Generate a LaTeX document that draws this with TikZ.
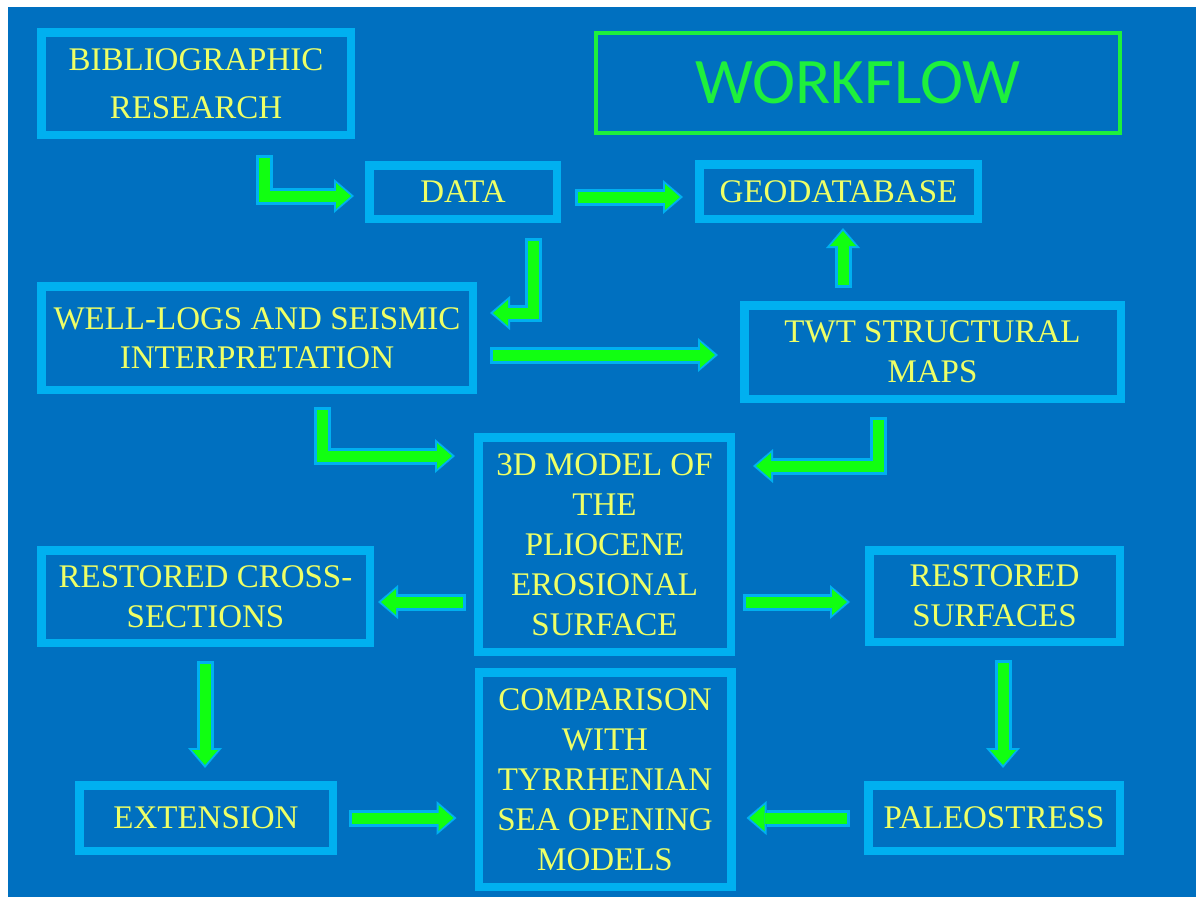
\documentclass[tikz,border=0pt]{standalone}
\usepackage{fontspec}
\setmainfont{Liberation Serif}
\newfontfamily\wffont{Carlito}
\usetikzlibrary{arrows.meta}
\definecolor{bgblue}{HTML}{0070C0}
\definecolor{lblue}{HTML}{00B0F0}
\definecolor{txtyel}{HTML}{EEFF66}
\definecolor{agreen}{HTML}{11FF11}
\definecolor{wgreen}{HTML}{1EF03C}
\tikzset{
  box/.style={draw=lblue, line width=8.5pt, fill=bgblue, text=txtyel, align=center, inner sep=0pt, font=\fontsize{33}{40}\selectfont},
  fatglow/.style={draw=lblue, line width=17pt, line join=miter, -{Triangle[length=20pt,width=34pt,line width=0pt]}},
  fatcore/.style={draw=agreen, line width=11pt, line join=miter, -{Triangle[length=15pt,width=26pt,line width=0pt]}, shorten >=3pt, shorten <=3pt},
}
\newcommand{\fatarr}[1]{\draw[fatglow] #1; \draw[fatcore] #1;}
\begin{document}
\begin{tikzpicture}[x=1pt,y=-1pt]
\useasboundingbox (0,0) rectangle (1196,897);
\fill[white] (0,0) rectangle (1196,897);
\fill[bgblue] (8,7) rectangle (1196,897);

\node[box, minimum width=309.5pt, minimum height=102.5pt, font=\fontsize{33}{48}\selectfont] (biblio) at (196,83.5) {BIBLIOGRAPHIC\\RESEARCH};
\node[box, minimum width=187.5pt, minimum height=53.5pt] (data) at (463,192) {DATA};
\node[box, minimum width=278.5pt, minimum height=54.5pt] (geo) at (838.5,191.5) {GEODATABASE};
\node[draw=wgreen, line width=4pt, minimum width=524pt, minimum height=100pt, text=wgreen, inner sep=0pt, font=\wffont\fontsize{65}{65}\selectfont] (wf) at (858,83) {WORKFLOW};
\node[box, minimum width=431.5pt, minimum height=103.5pt, font=\fontsize{33}{39}\selectfont] (well) at (257,338) {WELL-LOGS AND SEISMIC\\INTERPRETATION};
\node[box, minimum width=376.5pt, minimum height=93.5pt] (twt) at (932.5,352) {TWT STRUCTURAL\\MAPS};
\node[box, minimum width=252.5pt, minimum height=214.5pt] (model) at (604.5,544.5) {3D MODEL OF\\THE\\PLIOCENE\\EROSIONAL\\SURFACE};
\node[box, minimum width=328.5pt, minimum height=92.5pt] (cross) at (205.5,596.5) {RESTORED CROSS-\\SECTIONS};
\node[box, minimum width=250.5pt, minimum height=91.5pt] (surf) at (994.5,596) {RESTORED\\SURFACES};
\node[box, minimum width=253.5pt, minimum height=65.5pt] (ext) at (206,818) {EXTENSION};
\node[box, minimum width=252.5pt, minimum height=214.5pt] (comp) at (605,779.5) {COMPARISON\\WITH\\TYRRHENIAN\\SEA OPENING\\MODELS};
\node[box, minimum width=251.5pt, minimum height=65.5pt] (paleo) at (994,818) {PALEOSTRESS};

\fatarr{([xshift=68pt,yshift=-16pt]biblio.south) |- ([xshift=-11pt,yshift=-4pt]data.west)}
\fatarr{([xshift=14pt,yshift=-5pt]data.east) -- ([xshift=-12pt,yshift=-5.5pt]geo.west)}
\fatarr{([xshift=70pt,yshift=-15pt]data.south) |- ([xshift=13pt,yshift=25pt]well.east)}
\fatarr{([xshift=13pt,yshift=-17pt]well.east) -- ([xshift=-22pt,yshift=-3pt]twt.west)}
\fatarr{([xshift=-89.5pt,yshift=13pt]twt.north) -- ([xshift=4.5pt,yshift=-5pt]geo.south)}
\fatarr{([xshift=65pt,yshift=-13pt]well.south) |- ([xshift=-19pt,yshift=88.5pt]model.west)}
\fatarr{([xshift=-54.5pt,yshift=-14pt]twt.south) |- ([xshift=18pt,yshift=78.5pt]model.east)}
\fatarr{([xshift=-8pt,yshift=-57.5pt]model.west) -- ([xshift=4pt,yshift=-5.5pt]cross.east)}
\fatarr{([xshift=8pt,yshift=-57.5pt]model.east) -- ([xshift=-15pt,yshift=-6pt]surf.west)}
\fatarr{([xshift=-0.5pt,yshift=-14pt]cross.south) -- ([xshift=-1pt,yshift=13pt]ext.north)}
\fatarr{([xshift=8.5pt,yshift=-14pt]surf.south) -- ([xshift=9pt,yshift=13pt]paleo.north)}
\fatarr{([xshift=12pt]ext.east) -- ([xshift=-18pt,yshift=-38.5pt]comp.west)}
\fatarr{([xshift=-14pt]paleo.west) -- ([xshift=11pt,yshift=-38.5pt]comp.east)}
\end{tikzpicture}
\end{document}
